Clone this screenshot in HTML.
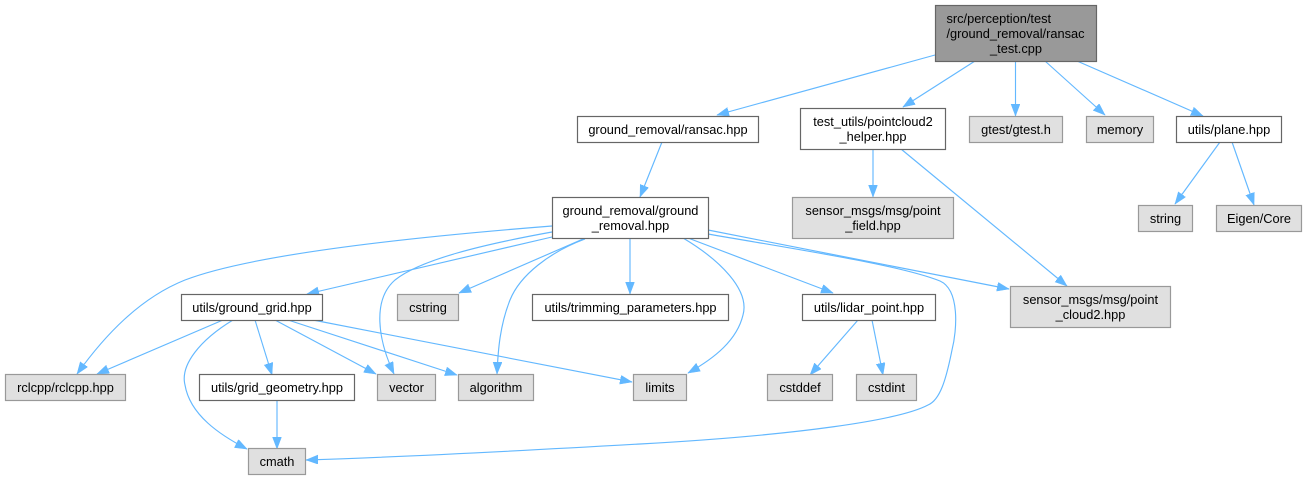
<!DOCTYPE html>
<html>
<head>
<meta charset="utf-8">
<style>
  html, body { margin: 0; padding: 0; background: #ffffff; }
  svg { display: block; }
  text { font-family: "Liberation Sans", Arial, sans-serif; font-size: 12.8px; fill: #000; }
  .e { fill: none; stroke: #63b8ff; stroke-width: 1.15; marker-end: url(#ah); }
  .w { fill: #ffffff; stroke: #666666; stroke-width: 1.2; }
  .g { fill: #e0e0e0; stroke: #999999; stroke-width: 1.2; }
  .t { fill: #999999; stroke: #666666; stroke-width: 1.2; }
</style>
</head>
<body>
<svg width="1306" height="480" viewBox="0 0 1306 480" xmlns="http://www.w3.org/2000/svg">
  <defs>
    <marker id="ah" markerUnits="userSpaceOnUse" markerWidth="13" markerHeight="10" refX="12" refY="4.5" orient="auto">
      <path d="M0,0 L12,4.5 L0,9 z" fill="#63b8ff" stroke="#63b8ff" stroke-width="0.5"/>
    </marker>
  </defs>

  <!-- edges -->
  <path class="e" d="M935,55 L717,115"/>
  <path class="e" d="M975,61 L903,107"/>
  <path class="e" d="M1015.5,61 L1015.5,116"/>
  <path class="e" d="M1045,61 L1105,115"/>
  <path class="e" d="M1077,61 L1203,116"/>
  <path class="e" d="M662,142 L640,197"/>
  <path class="e" d="M873,149 L873,197"/>
  <path class="e" d="M901,149 L1067,286"/>
  <path class="e" d="M1220,142 L1175,204"/>
  <path class="e" d="M1232,142 L1254,205"/>

  <path class="e" d="M552,226 C400,238 250,255 185,280 C140,298 105,335 77,374"/>
  <path class="e" d="M552,237 L307,294"/>
  <path class="e" d="M552,232 C480,245 420,260 395,280 C372,300 378,340 394,374"/>
  <path class="e" d="M583,239 L459,293"/>
  <path class="e" d="M585,239 C550,252 520,275 510,300 C500,325 498,350 497,374"/>
  <path class="e" d="M630,238 L630,294"/>
  <path class="e" d="M683,238 C720,260 750,290 743,315 C737,340 715,358 688,373"/>
  <path class="e" d="M688,238 L833,293"/>
  <path class="e" d="M708,230 L1009,289"/>
  <path class="e" d="M708,234 C800,250 900,265 940,281 C960,290 957,330 952,350 C946,380 940,400 928,405 C900,420 800,435 640,444 C500,452 400,457 306,460"/>

  <path class="e" d="M223,320 L97,374"/>
  <path class="e" d="M233,320 C200,340 180,365 185,385 C190,415 220,435 247,449"/>
  <path class="e" d="M255,320 L272,375"/>
  <path class="e" d="M275,320 L376,374"/>
  <path class="e" d="M288,320 L457,375"/>
  <path class="e" d="M313,320 L632,382"/>
  <path class="e" d="M277,400 L277,449"/>
  <path class="e" d="M858,320 L810,375"/>
  <path class="e" d="M872,320 L883,375"/>

  <!-- nodes -->
  <rect class="t" x="935.5" y="5.5" width="161" height="56"/>
  <text x="946.5" y="23">src/perception/test</text>
  <text x="946.5" y="38">/ground_removal/ransac</text>
  <text x="1016" y="53" text-anchor="middle">_test.cpp</text>

  <rect class="w" x="577.5" y="116.5" width="181" height="26"/>
  <text x="668" y="134" text-anchor="middle">ground_removal/ransac.hpp</text>

  <rect class="w" x="800.5" y="108.5" width="145" height="41"/>
  <text x="873" y="126" text-anchor="middle">test_utils/pointcloud2</text>
  <text x="873" y="141" text-anchor="middle">_helper.hpp</text>

  <rect class="g" x="969.5" y="116.5" width="93" height="26"/>
  <text x="1016" y="134" text-anchor="middle">gtest/gtest.h</text>

  <rect class="g" x="1086.5" y="116.5" width="67" height="26"/>
  <text x="1120" y="134" text-anchor="middle">memory</text>

  <rect class="w" x="1176.5" y="116.5" width="105" height="26"/>
  <text x="1229" y="134" text-anchor="middle">utils/plane.hpp</text>

  <rect class="w" x="552.5" y="197.5" width="156" height="41"/>
  <text x="630.5" y="215" text-anchor="middle">ground_removal/ground</text>
  <text x="630.5" y="230" text-anchor="middle">_removal.hpp</text>

  <rect class="g" x="792.5" y="197.5" width="161" height="41"/>
  <text x="873" y="215" text-anchor="middle">sensor_msgs/msg/point</text>
  <text x="873" y="230" text-anchor="middle">_field.hpp</text>

  <rect class="g" x="1138.5" y="205.5" width="54" height="26"/>
  <text x="1165.5" y="223" text-anchor="middle">string</text>

  <rect class="g" x="1216.5" y="205.5" width="85" height="26"/>
  <text x="1259" y="223" text-anchor="middle">Eigen/Core</text>

  <rect class="w" x="181.5" y="294.5" width="141" height="26"/>
  <text x="252" y="312" text-anchor="middle">utils/ground_grid.hpp</text>

  <rect class="g" x="397.5" y="294.5" width="61" height="26"/>
  <text x="428" y="312" text-anchor="middle">cstring</text>

  <rect class="w" x="532.5" y="294.5" width="196" height="26"/>
  <text x="630.5" y="312" text-anchor="middle">utils/trimming_parameters.hpp</text>

  <rect class="w" x="802.5" y="294.5" width="133" height="26"/>
  <text x="869" y="312" text-anchor="middle">utils/lidar_point.hpp</text>

  <rect class="g" x="1010.5" y="286.5" width="160" height="41"/>
  <text x="1090.5" y="304" text-anchor="middle">sensor_msgs/msg/point</text>
  <text x="1090.5" y="319" text-anchor="middle">_cloud2.hpp</text>

  <rect class="g" x="5.5" y="374.5" width="120" height="26"/>
  <text x="65.5" y="392" text-anchor="middle">rclcpp/rclcpp.hpp</text>

  <rect class="w" x="199.5" y="374.5" width="155" height="26"/>
  <text x="277" y="392" text-anchor="middle">utils/grid_geometry.hpp</text>

  <rect class="g" x="377.5" y="374.5" width="58" height="26"/>
  <text x="406.5" y="392" text-anchor="middle">vector</text>

  <rect class="g" x="458.5" y="374.5" width="75" height="26"/>
  <text x="496" y="392" text-anchor="middle">algorithm</text>

  <rect class="g" x="633.5" y="374.5" width="53" height="26"/>
  <text x="660" y="392" text-anchor="middle">limits</text>

  <rect class="g" x="767.5" y="374.5" width="65" height="26"/>
  <text x="800" y="392" text-anchor="middle">cstddef</text>

  <rect class="g" x="856.5" y="374.5" width="60" height="26"/>
  <text x="886.5" y="392" text-anchor="middle">cstdint</text>

  <rect class="g" x="248.5" y="448.5" width="57" height="26"/>
  <text x="277" y="466" text-anchor="middle">cmath</text>
</svg>
</body>
</html>
